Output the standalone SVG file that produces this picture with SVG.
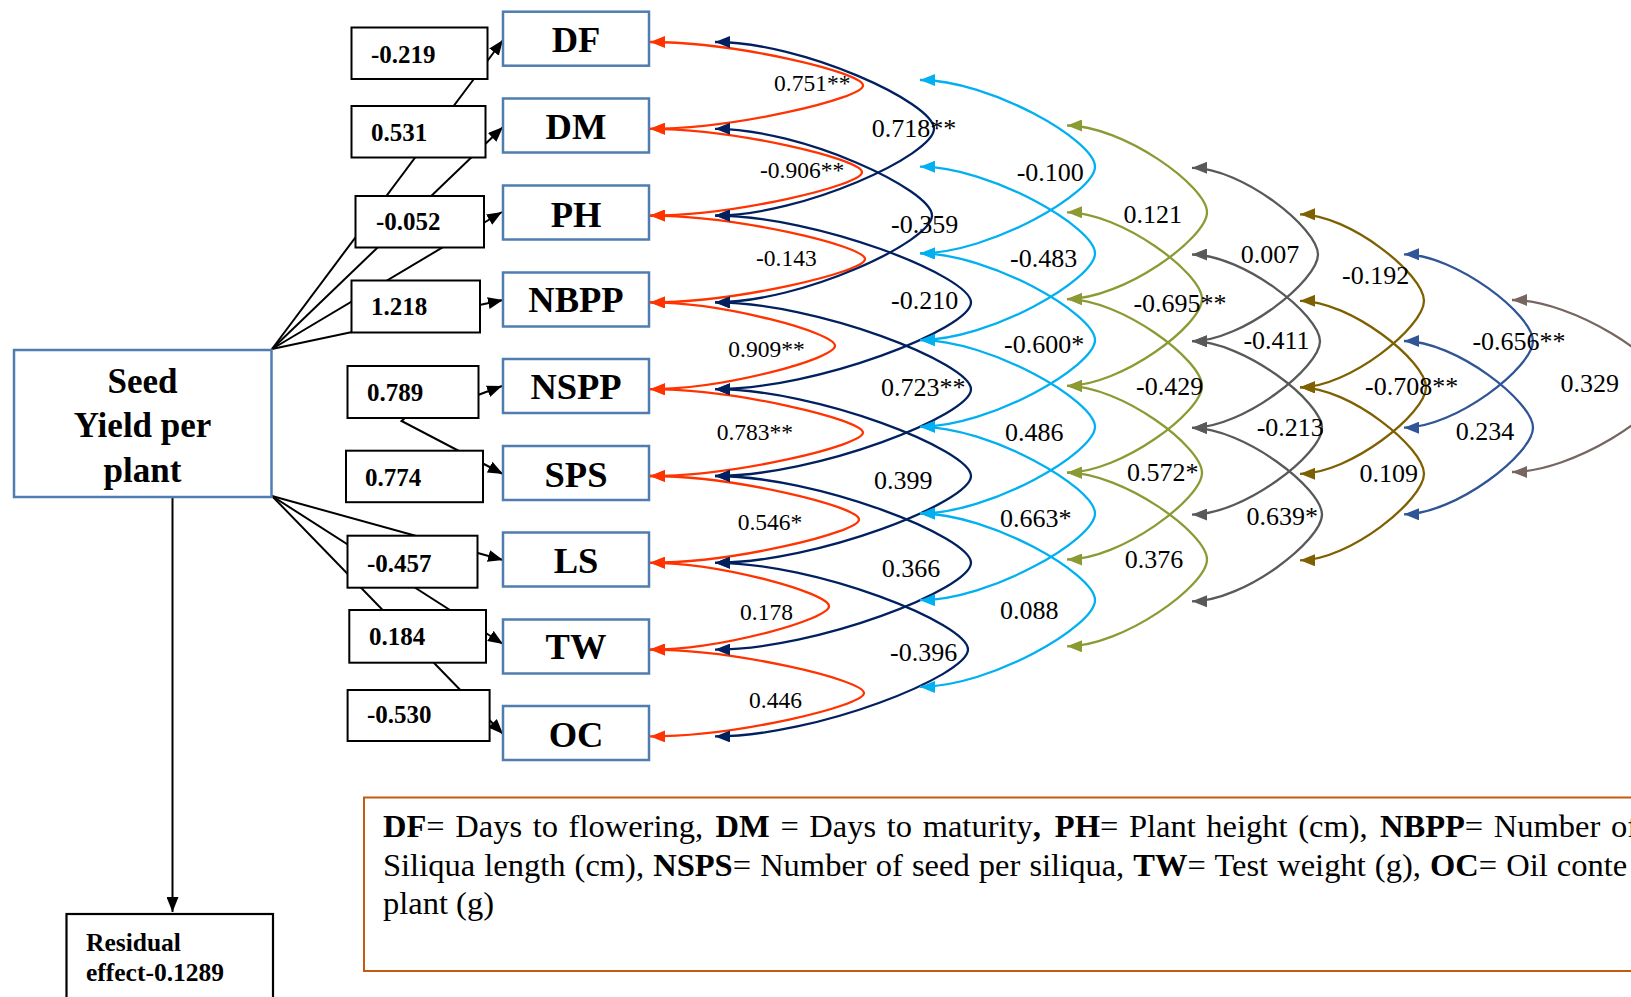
<svg xmlns="http://www.w3.org/2000/svg" width="1631" height="997" viewBox="0 0 1631 997">
<style>
.nb{fill:#fff;stroke:#4F7DB0;stroke-width:2.5}
.nl{font-family:"Liberation Serif","Times New Roman",serif;font-weight:bold;font-size:36.5px;text-anchor:middle;fill:#000}
.cb{fill:#fff;stroke:#000;stroke-width:2}
.ct{font-family:"Liberation Serif","Times New Roman",serif;font-weight:bold;font-size:25px;fill:#000}
.ln{stroke:#000;stroke-width:2;fill:none;marker-end:url(#mk)}
.arc{fill:none;stroke-width:2.3}
.lab{font-family:"Liberation Serif","Times New Roman",serif;font-size:26px;fill:#000}
.lr{font-size:23.5px}
.lg{font-family:"Liberation Serif","Times New Roman",serif;font-size:32.5px;fill:#000}
.b{font-weight:bold}
.red{stroke:#FF3300;marker-start:url(#m-red);marker-end:url(#m-red)}
.navy{stroke:#002060;marker-start:url(#m-navy);marker-end:url(#m-navy)}
.lblue{stroke:#00B0F0;marker-start:url(#m-lblue);marker-end:url(#m-lblue)}
.olive{stroke:#8C9A34;marker-start:url(#m-olive);marker-end:url(#m-olive)}
.gray{stroke:#595959;marker-start:url(#m-gray);marker-end:url(#m-gray)}
.brown{stroke:#7F6000;marker-start:url(#m-brown);marker-end:url(#m-brown)}
.blue{stroke:#2F5597;marker-start:url(#m-blue);marker-end:url(#m-blue)}
.bgray{stroke:#766560;marker-start:url(#m-bgray);marker-end:url(#m-bgray)}
</style>
<defs>
<marker id="mk" viewBox="0 0 15 12" refX="15" refY="6" markerWidth="15" markerHeight="12" markerUnits="userSpaceOnUse" orient="auto"><path d="M0,0 L15,6 L0,12 z" fill="#000"/></marker>
<marker id="m-red" viewBox="0 0 15 12" refX="15" refY="6" markerWidth="15" markerHeight="12" markerUnits="userSpaceOnUse" orient="auto-start-reverse"><path d="M0,0 L15,6 L0,12 z" fill="#FF3300"/></marker>
<marker id="m-navy" viewBox="0 0 15 12" refX="15" refY="6" markerWidth="15" markerHeight="12" markerUnits="userSpaceOnUse" orient="auto-start-reverse"><path d="M0,0 L15,6 L0,12 z" fill="#002060"/></marker>
<marker id="m-lblue" viewBox="0 0 15 12" refX="15" refY="6" markerWidth="15" markerHeight="12" markerUnits="userSpaceOnUse" orient="auto-start-reverse"><path d="M0,0 L15,6 L0,12 z" fill="#00B0F0"/></marker>
<marker id="m-olive" viewBox="0 0 15 12" refX="15" refY="6" markerWidth="15" markerHeight="12" markerUnits="userSpaceOnUse" orient="auto-start-reverse"><path d="M0,0 L15,6 L0,12 z" fill="#8C9A34"/></marker>
<marker id="m-gray" viewBox="0 0 15 12" refX="15" refY="6" markerWidth="15" markerHeight="12" markerUnits="userSpaceOnUse" orient="auto-start-reverse"><path d="M0,0 L15,6 L0,12 z" fill="#595959"/></marker>
<marker id="m-brown" viewBox="0 0 15 12" refX="15" refY="6" markerWidth="15" markerHeight="12" markerUnits="userSpaceOnUse" orient="auto-start-reverse"><path d="M0,0 L15,6 L0,12 z" fill="#7F6000"/></marker>
<marker id="m-blue" viewBox="0 0 15 12" refX="15" refY="6" markerWidth="15" markerHeight="12" markerUnits="userSpaceOnUse" orient="auto-start-reverse"><path d="M0,0 L15,6 L0,12 z" fill="#2F5597"/></marker>
<marker id="m-bgray" viewBox="0 0 15 12" refX="15" refY="6" markerWidth="15" markerHeight="12" markerUnits="userSpaceOnUse" orient="auto-start-reverse"><path d="M0,0 L15,6 L0,12 z" fill="#766560"/></marker>
</defs>
<rect width="1631" height="997" fill="#fff"/>

<g id="connectors">
<line class="ln" x1="272" y1="349" x2="503" y2="40"/>
<line class="ln" x1="272" y1="349" x2="503" y2="127"/>
<line class="ln" x1="272" y1="349" x2="502" y2="212"/>
<line class="ln" x1="272" y1="349" x2="503" y2="300"/>
<line class="ln" x1="478" y1="395" x2="502" y2="386"/>
<polyline class="ln" points="405,418 401.5,421 503,474"/>
<line class="ln" x1="272" y1="496" x2="503" y2="560"/>
<line class="ln" x1="272" y1="496" x2="503" y2="644"/>
<line class="ln" x1="272" y1="496" x2="503" y2="734"/>
<line class="ln" x1="172.5" y1="498" x2="172.5" y2="912"/>
</g>

<g id="coef-DF"><rect class="cb" x="351.5" y="27.5" width="136" height="51.5"/><text class="ct" x="371" y="63">-0.219</text></g>
<g id="coef-DM"><rect class="cb" x="351.5" y="106" width="134" height="51.5"/><text class="ct" x="371" y="141">0.531</text></g>
<g id="coef-PH"><rect class="cb" x="355.5" y="196" width="128.5" height="51.5"/><text class="ct" x="376" y="230">-0.052</text></g>
<g id="coef-NBPP"><rect class="cb" x="351.5" y="280.5" width="128.5" height="52"/><text class="ct" x="371" y="315">1.218</text></g>
<g id="coef-NSPP"><rect class="cb" x="347.5" y="366" width="131" height="52"/><text class="ct" x="367" y="401">0.789</text></g>
<g id="coef-SPS"><rect class="cb" x="346" y="450.7" width="137" height="51.5"/><text class="ct" x="365" y="485.7">0.774</text></g>
<g id="coef-LS"><rect class="cb" x="347.5" y="535.7" width="130" height="52"/><text class="ct" x="367" y="571.7">-0.457</text></g>
<g id="coef-TW"><rect class="cb" x="349.3" y="610" width="136.7" height="52.7"/><text class="ct" x="369" y="645">0.184</text></g>
<g id="coef-OC"><rect class="cb" x="347.6" y="690" width="142" height="51"/><text class="ct" x="367" y="723">-0.530</text></g>

<g id="seed-yield"><rect class="nb" x="14" y="350" width="257.5" height="147"/>
<text class="nl" style="font-size:35px" x="142.5" y="392.7">Seed</text>
<text class="nl" style="font-size:35px" x="142.5" y="436.7">Yield per</text>
<text class="nl" style="font-size:35px" x="142.5" y="481.7">plant</text></g>

<g id="residual"><rect x="66.5" y="914" width="206.5" height="100" fill="#fff" stroke="#000" stroke-width="2.2"/>
<text class="ct" style="font-size:25.5px" x="86" y="951">Residual</text>
<text class="ct" style="font-size:25.5px" x="86" y="981">effect-0.1289</text></g>

<g id="node-DF"><rect class="nb" x="503" y="11.7" width="146" height="54"/><text class="nl" x="576" y="52.3">DF</text></g>
<g id="node-DM"><rect class="nb" x="503" y="98.5" width="146" height="54"/><text class="nl" x="576" y="139.3">DM</text></g>
<g id="node-PH"><rect class="nb" x="503" y="185.5" width="146" height="54"/><text class="nl" x="576" y="226.7">PH</text></g>
<g id="node-NBPP"><rect class="nb" x="503" y="272.5" width="146" height="54"/><text class="nl" x="576" y="311.7">NBPP</text></g>
<g id="node-NSPP"><rect class="nb" x="503" y="359" width="146" height="54"/><text class="nl" x="576" y="398.5">NSPP</text></g>
<g id="node-SPS"><rect class="nb" x="503" y="446" width="146" height="54"/><text class="nl" x="576" y="486.7">SPS</text></g>
<g id="node-LS"><rect class="nb" x="503" y="532.5" width="146" height="54"/><text class="nl" x="576" y="573.3">LS</text></g>
<g id="node-TW"><rect class="nb" x="503" y="619.5" width="146" height="54"/><text class="nl" x="576" y="659.3">TW</text></g>
<g id="node-OC"><rect class="nb" x="503" y="706" width="146" height="54"/><text class="nl" x="576" y="746.7">OC</text></g>

<g id="correlations">
<path class="arc red" d="M650,42 C735.2,42 863,72.4 863,85.4 C863,98.4 735.2,128.8 650,128.8"/>
<path class="arc red" d="M650,128.8 C734.8,128.8 862,159.2 862,172.2 C862,185.2 734.8,215.6 650,215.6"/>
<path class="arc red" d="M650,215.6 C736,215.6 865,246 865,259 C865,272 736,302.4 650,302.4"/>
<path class="arc red" d="M650,302.4 C724,302.4 835,332.8 835,345.8 C835,358.8 724,389.2 650,389.2"/>
<path class="arc red" d="M650,389.2 C735.2,389.2 863,419.6 863,432.6 C863,445.6 735.2,476 650,476"/>
<path class="arc red" d="M650,476 C733.6,476 859,506.4 859,519.4 C859,532.4 733.6,562.8 650,562.8"/>
<path class="arc red" d="M650,562.8 C721.6,562.8 829,593.2 829,606.2 C829,619.2 721.6,649.6 650,649.6"/>
<path class="arc red" d="M650,649.6 C735.6,649.6 864,680 864,693 C864,706 735.6,736.4 650,736.4"/>

<path class="arc navy" d="M715,42 C802.6,42 934,102.8 934,128.8 C934,154.8 802.6,215.6 715,215.6"/>
<path class="arc navy" d="M715,128.8 C801.8,128.8 932,189.6 932,215.6 C932,241.6 801.8,302.4 715,302.4"/>
<path class="arc navy" d="M715,215.6 C817.4,215.6 971,276.4 971,302.4 C971,328.4 817.4,389.2 715,389.2"/>
<path class="arc navy" d="M715,302.4 C817.4,302.4 971,363.2 971,389.2 C971,415.2 817.4,476 715,476"/>
<path class="arc navy" d="M715,389.2 C817.4,389.2 971,450 971,476 C971,502 817.4,562.8 715,562.8"/>
<path class="arc navy" d="M715,476 C817.4,476 971,536.8 971,562.8 C971,588.8 817.4,649.6 715,649.6"/>
<path class="arc navy" d="M715,562.8 C816.2,562.8 968,623.6 968,649.6 C968,675.6 816.2,736.4 715,736.4"/>

<path class="arc lblue" d="M920,80 C990,80 1095,140.7 1095,166.7 C1095,192.7 990,253.4 920,253.4"/>
<path class="arc lblue" d="M920,166.7 C990,166.7 1095,227.4 1095,253.4 C1095,279.4 990,340.1 920,340.1"/>
<path class="arc lblue" d="M920,253.4 C990,253.4 1095,314.1 1095,340.1 C1095,366.1 990,426.8 920,426.8"/>
<path class="arc lblue" d="M920,340.1 C990,340.1 1095,400.8 1095,426.8 C1095,452.8 990,513.5 920,513.5"/>
<path class="arc lblue" d="M920,426.8 C990,426.8 1095,487.5 1095,513.5 C1095,539.5 990,600.2 920,600.2"/>
<path class="arc lblue" d="M920,513.5 C990,513.5 1095,574.2 1095,600.2 C1095,626.2 990,686.9 920,686.9"/>

<path class="arc olive" d="M1067,125.5 C1123,125.5 1207,186.3 1207,212.3 C1207,238.3 1123,299.1 1067,299.1"/>
<path class="arc olive" d="M1067,212.3 C1121,212.3 1202,273.1 1202,299.1 C1202,325.1 1121,385.9 1067,385.9"/>
<path class="arc olive" d="M1067,299.1 C1121,299.1 1202,359.9 1202,385.9 C1202,411.9 1121,472.7 1067,472.7"/>
<path class="arc olive" d="M1067,385.9 C1121,385.9 1202,446.7 1202,472.7 C1202,498.7 1121,559.5 1067,559.5"/>
<path class="arc olive" d="M1067,472.7 C1123,472.7 1207,533.5 1207,559.5 C1207,585.5 1123,646.3 1067,646.3"/>

<path class="arc gray" d="M1192,167.8 C1242.4,167.8 1318,228.5 1318,254.5 C1318,280.5 1242.4,341.2 1192,341.2"/>
<path class="arc gray" d="M1192,254.5 C1243.2,254.5 1320,315.2 1320,341.2 C1320,367.2 1243.2,427.9 1192,427.9"/>
<path class="arc gray" d="M1192,341.2 C1244,341.2 1322,401.9 1322,427.9 C1322,453.9 1244,514.6 1192,514.6"/>
<path class="arc gray" d="M1192,427.9 C1244,427.9 1322,488.6 1322,514.6 C1322,540.6 1244,601.3 1192,601.3"/>

<path class="arc brown" d="M1300,214.3 C1349.6,214.3 1424,274.8 1424,300.8 C1424,326.8 1349.6,387.3 1300,387.3"/>
<path class="arc brown" d="M1300,300.8 C1350.4,300.8 1426,361.3 1426,387.3 C1426,413.3 1350.4,473.8 1300,473.8"/>
<path class="arc brown" d="M1300,387.3 C1349.6,387.3 1424,447.8 1424,473.8 C1424,499.8 1349.6,560.3 1300,560.3"/>

<path class="arc blue" d="M1404,254.3 C1455.6,254.3 1533,315 1533,341 C1533,367 1455.6,427.7 1404,427.7"/>
<path class="arc blue" d="M1404,341 C1455.6,341 1533,401.7 1533,427.7 C1533,453.7 1455.6,514.3 1404,514.3"/>

<path class="arc bgray" d="M1512,300 C1573,300 1665,360 1665,386 C1665,412 1573,472 1512,472"/>
</g>

<g id="correlation-labels">
<text class="lab lr" x="774" y="90.7">0.751**</text>
<text class="lab lr" x="760" y="178.3">-0.906**</text>
<text class="lab lr" x="756" y="266">-0.143</text>
<text class="lab lr" x="728.3" y="357.3">0.909**</text>
<text class="lab lr" x="716.7" y="440">0.783**</text>
<text class="lab lr" x="737.7" y="530">0.546*</text>
<text class="lab lr" x="740" y="620">0.178</text>
<text class="lab lr" x="749" y="708.3">0.446</text>

<text class="lab" x="871.7" y="136.7">0.718**</text>
<text class="lab" x="891" y="233.3">-0.359</text>
<text class="lab" x="891" y="309.3">-0.210</text>
<text class="lab" x="881" y="396">0.723**</text>
<text class="lab" x="874" y="489.3">0.399</text>
<text class="lab" x="881.7" y="576.7">0.366</text>
<text class="lab" x="890" y="661">-0.396</text>

<text class="lab" x="1016.7" y="181">-0.100</text>
<text class="lab" x="1010" y="266.7">-0.483</text>
<text class="lab" x="1004" y="352.7">-0.600*</text>
<text class="lab" x="1005" y="441">0.486</text>
<text class="lab" x="1000" y="526.7">0.663*</text>
<text class="lab" x="1000" y="619">0.088</text>

<text class="lab" x="1123.4" y="222.7">0.121</text>
<text class="lab" x="1133.4" y="311.7">-0.695**</text>
<text class="lab" x="1136" y="395">-0.429</text>
<text class="lab" x="1127" y="481">0.572*</text>
<text class="lab" x="1124.8" y="568.3">0.376</text>

<text class="lab" x="1240.8" y="263.3">0.007</text>
<text class="lab" x="1243.4" y="349">-0.411</text>
<text class="lab" x="1256.7" y="436">-0.213</text>
<text class="lab" x="1246.4" y="525">0.639*</text>

<text class="lab" x="1342" y="284.3">-0.192</text>
<text class="lab" x="1365" y="395">-0.708**</text>
<text class="lab" x="1359.4" y="482.3">0.109</text>

<text class="lab" x="1472.4" y="350">-0.656**</text>
<text class="lab" x="1455.7" y="440">0.234</text>

<text class="lab" x="1560.6" y="392.3">0.329</text>
</g>

<g id="legend">
<rect x="364" y="797.5" width="1300" height="173.5" fill="none" stroke="#C55A11" stroke-width="2"/>
<text class="lg" y="837" style="word-spacing:2.5px"><tspan x="383" class="b">DF</tspan><tspan>= Days to flowering,</tspan><tspan x="715.6" class="b">DM</tspan><tspan> = Days to maturity</tspan><tspan class="b">,</tspan><tspan x="1054.8" class="b">PH</tspan><tspan>= Plant height (cm),</tspan><tspan x="1380" class="b">NBPP</tspan><tspan>= Number of</tspan></text>
<text class="lg" x="383" y="876" style="word-spacing:1px">Siliqua length (cm), <tspan class="b">NSPS</tspan>= Number of seed per siliqua, <tspan class="b">TW</tspan>= Test weight (g), <tspan class="b">OC</tspan>= Oil conte</text>
<text class="lg" x="383" y="914">plant (g)</text>
</g>
</svg>
